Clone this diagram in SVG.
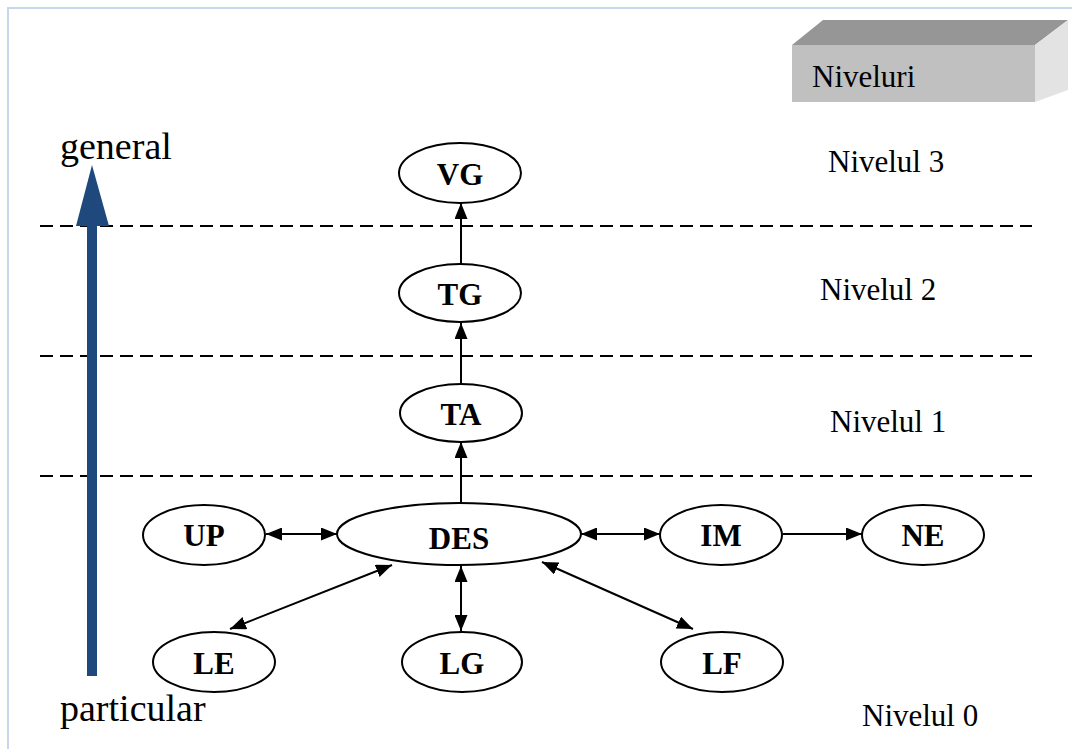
<svg xmlns="http://www.w3.org/2000/svg" width="1072" height="749" viewBox="0 0 1072 749">
<defs>
<style>
.node ellipse{fill:#fff;stroke:#000;stroke-width:2}
.node text{font-family:"Liberation Serif","Times New Roman",serif;font-weight:bold;font-size:31px;text-anchor:middle;fill:#000}
.lbl{font-family:"Liberation Serif","Times New Roman",serif;font-size:31px;fill:#000}
.big{font-family:"Liberation Serif","Times New Roman",serif;font-size:38px;fill:#000}
.dash{stroke:#000;stroke-width:1.8;stroke-dasharray:13 7;fill:none}
#connectors line{stroke:#000;stroke-width:2;fill:none}
</style>
<marker id="ah" viewBox="0 0 16 13" refX="16" refY="6.5" markerWidth="16" markerHeight="13" markerUnits="userSpaceOnUse" orient="auto-start-reverse">
<path d="M0,0 L16,6.5 L0,13 Z" fill="#000"/>
</marker>
</defs>
<rect x="0" y="0" width="1072" height="749" fill="#fff"/>
<path d="M8,749 V8 H1072" fill="none" stroke="#c6d6ec" stroke-width="2"/>

<g id="levels-box">
<polygon points="792,45 823,20 1068,20 1035,45" fill="#969696"/>
<polygon points="1035,45 1068,20 1068,90 1035,102" fill="#e3e3e3"/>
<rect x="792" y="45" width="243" height="57" fill="#c0c0c0"/>
<text class="lbl" x="812" y="87">Niveluri</text>
</g>

<g id="separators">
<line class="dash" x1="40" y1="226" x2="1032" y2="226"/>
<line class="dash" x1="40" y1="356" x2="1032" y2="356"/>
<line class="dash" x1="40" y1="476" x2="1032" y2="476"/>
</g>

<g id="axis">
<rect x="87" y="224" width="10" height="452" fill="#1f497d"/>
<polygon points="92,165 109,226 76,226" fill="#1f497d"/>
<text class="big" x="60" y="159">general</text>
<text class="big" x="60" y="721">particular</text>
</g>

<g id="level-labels">
<text class="lbl" x="828" y="172">Nivelul 3</text>
<text class="lbl" x="820" y="300">Nivelul 2</text>
<text class="lbl" x="830" y="432">Nivelul 1</text>
<text class="lbl" x="862" y="726">Nivelul 0</text>
</g>

<g id="connectors">
<line x1="461" y1="264" x2="461" y2="203" marker-end="url(#ah)"/>
<line x1="461" y1="384" x2="461" y2="323" marker-end="url(#ah)"/>
<line x1="461" y1="502" x2="461" y2="442" marker-end="url(#ah)"/>
<line x1="266" y1="534" x2="337" y2="534" marker-start="url(#ah)" marker-end="url(#ah)"/>
<line x1="581" y1="534" x2="660" y2="534" marker-start="url(#ah)" marker-end="url(#ah)"/>
<line x1="783" y1="534" x2="862" y2="534" marker-end="url(#ah)"/>
<line x1="461" y1="566" x2="461" y2="631" marker-start="url(#ah)" marker-end="url(#ah)"/>
<line x1="392" y1="565" x2="230" y2="629" marker-start="url(#ah)" marker-end="url(#ah)"/>
<line x1="542" y1="562" x2="693" y2="629" marker-start="url(#ah)" marker-end="url(#ah)"/>
</g>

<g id="node-VG" class="node"><ellipse cx="460" cy="173" rx="61" ry="30"/><text x="460" y="185">VG</text></g>
<g id="node-TG" class="node"><ellipse cx="460" cy="293" rx="61" ry="29"/><text x="460" y="305">TG</text></g>
<g id="node-TA" class="node"><ellipse cx="461" cy="413" rx="61" ry="29"/><text x="461" y="425">TA</text></g>
<g id="node-DES" class="node"><ellipse cx="459" cy="534" rx="122" ry="31"/><text x="459" y="549">DES</text></g>
<g id="node-UP" class="node"><ellipse cx="204" cy="535" rx="61" ry="30"/><text x="204" y="546">UP</text></g>
<g id="node-IM" class="node"><ellipse cx="721" cy="535" rx="61" ry="30"/><text x="721" y="546">IM</text></g>
<g id="node-NE" class="node"><ellipse cx="923" cy="535" rx="61" ry="30"/><text x="923" y="546">NE</text></g>
<g id="node-LE" class="node"><ellipse cx="214" cy="662" rx="61" ry="30"/><text x="214" y="674">LE</text></g>
<g id="node-LG" class="node"><ellipse cx="462" cy="662" rx="60" ry="30"/><text x="462" y="674">LG</text></g>
<g id="node-LF" class="node"><ellipse cx="722" cy="662" rx="61" ry="30"/><text x="722" y="674">LF</text></g>
</svg>
